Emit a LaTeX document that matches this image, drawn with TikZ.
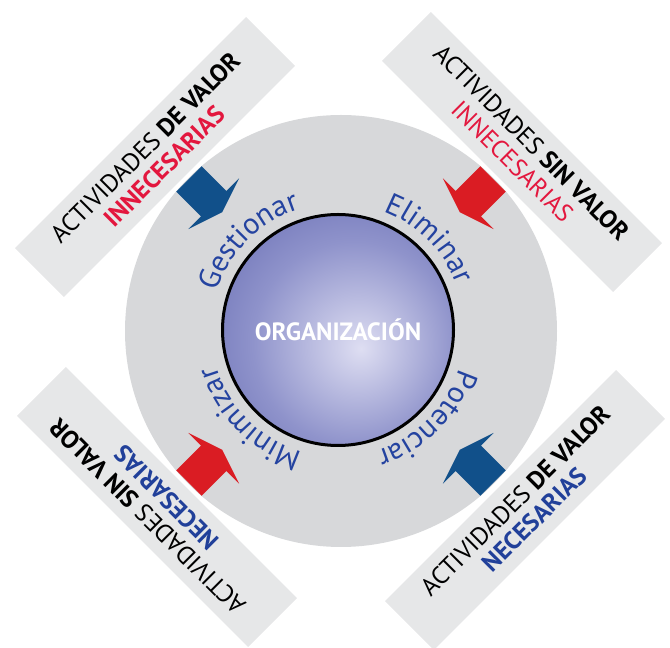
\documentclass[tikz,border=0pt]{standalone}
\usepackage{fontspec}
\setmainfont{PT Sans}
\usetikzlibrary{decorations.text}
\definecolor{ringgray}{HTML}{D7D8DA}
\definecolor{boxgray}{HTML}{E6E7E8}
\definecolor{ballin}{HTML}{DEDEF2}
\definecolor{ballmid}{HTML}{8F93CB}
\definecolor{ballout}{HTML}{5158A6}
\definecolor{arrowblue}{HTML}{11508A}
\definecolor{arrowred}{HTML}{DA1C23}
\definecolor{labelblue}{HTML}{2443A0}
\definecolor{wordred}{HTML}{E3173E}
\definecolor{wordblue}{HTML}{21409A}
\pgfdeclareradialshading{orgball}{\pgfpoint{5bp}{-4bp}}{color(0bp)=(ballin); color(22bp)=(ballmid); color(48bp)=(ballout); color(75bp)=(ballout)}
\newcommand{\labelfont}{\fontsize{30}{32}\selectfont}
\tikzset{
  valuebox/.style={
    fill=boxgray,
    minimum width=327pt,
    minimum height=69pt,
    inner sep=0pt,
    align=center,
    font=\fontsize{25}{27}\selectfont
  },
  arclabel/.style={
    decorate,
    decoration={text along path, text align=center,
      text color=labelblue, text={|\labelfont|#1}}
  }
}

\begin{document}
\begin{tikzpicture}[x=1pt,y=1pt]
  \useasboundingbox (0,0) rectangle (670,648);
  \node [circle, fill=ringgray, minimum size=432pt] (ring) at (341,317) {};
  % arrows sit on the rim of the ring
  \foreach \ang/\col in {135/arrowblue, 45/arrowred, -135/arrowred, -45/arrowblue}
    \fill [\col, shift={(ring.center)}, rotate=\ang]
      (215,-18) -- (180,-18) -- (180,-36) -- (168,0) -- (180,36) -- (180,18) -- (215,18) -- cycle;
  \node [circle, draw=black, line width=3pt, shading=orgball, minimum size=231pt,
    text=white, font=\fontsize{25}{28}\selectfont\bfseries] (org) at (338,318) {ORGANIZACIÓN};
  \path [arclabel=Gestionar] ([shift={(180:127)}]org.center) arc[start angle=180, end angle=90, radius=127];
  \path [arclabel=Eliminar] ([shift={(90:127)}]org.center) arc[start angle=90, end angle=0, radius=127];
  \path [arclabel=Potenciar] ([shift={(0:127)}]org.center) arc[start angle=0, end angle=-90, radius=127];
  \path [arclabel=Minimizar] ([shift={(-90:127)}]org.center) arc[start angle=-90, end angle=-180, radius=127];
  % corner boxes
  \node [valuebox, rotate=45] (tl) at (155,491)
    {ACTIVIDADES \textbf{DE VALOR}\\ \textcolor{wordred}{\textbf{INNECESARIAS}}};
  \node [valuebox, rotate=-45] (tr) at (522,496)
    {ACTIVIDADES \textbf{SIN VALOR}\\ \textcolor{wordred}{INNECESARIAS}};
  \node [valuebox, rotate=135] (bl) at (157,141)
    {ACTIVIDADES \textbf{SIN VALOR}\\ \textcolor{wordblue}{\textbf{NECESARIAS}}};
  \node [valuebox, rotate=45] (br) at (525,138)
    {ACTIVIDADES \textbf{DE VALOR}\\ \textcolor{wordblue}{\textbf{NECESARIAS}}};
\end{tikzpicture}
\end{document}
